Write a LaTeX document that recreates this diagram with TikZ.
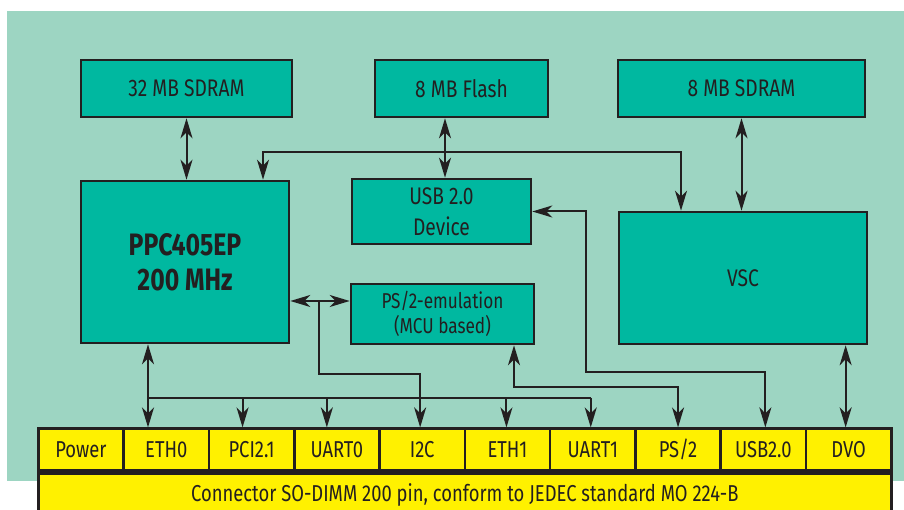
\documentclass[tikz,border=0pt]{standalone}
\usepackage{fontspec}
\setmainfont{Fira Sans}[FakeStretch=0.80]
\usetikzlibrary{arrows.meta, positioning}

\definecolor{bgmint}{RGB}{157,213,194}
\definecolor{boxteal}{RGB}{0,184,160}
\definecolor{portyellow}{RGB}{255,241,0}
\definecolor{inkline}{RGB}{35,31,32}

\begin{document}
\begin{tikzpicture}[x=1pt,y=1pt,>={Stealth[length=20pt,width=12pt,inset=6pt]},
		line width=2pt, draw=inkline, text=inkline,
		font=\fontsize{24}{31}\selectfont,
		block/.style={draw=inkline,fill=boxteal,line width=2.6pt,inner sep=0pt,align=center},
		port/.style={draw=inkline,fill=portyellow,line width=2.6pt,inner sep=0pt,
			minimum width=85.3pt,minimum height=42pt,font=\fontsize{23}{28}\selectfont}]

  \useasboundingbox (0,0) rectangle (904,510);
  \fill[bgmint] (7,29) rectangle (904,499);

  % boxes
  \node[block, minimum width=211pt, minimum height=57pt] (sdram_a) at (186.5,421.5) {32 MB SDRAM};
  \node[block, minimum width=173pt, minimum height=57pt] (flash) at (461.5,421.5) {8 MB Flash};
  \node[block, minimum width=247pt, minimum height=57pt] (sdram_b) at (741.5,421.5) {8 MB SDRAM};
  \node[block, minimum width=208pt, minimum height=162pt,
		font=\fontsize{31}{35}\selectfont\bfseries] (cpu) at (185,248) {PPC405EP\\200 MHz};
  \node[block, minimum width=179pt, minimum height=65pt] (usb_dev) at (441.5,298.5) {USB 2.0\\Device};
  \node[block, minimum width=248pt, minimum height=132pt] (vsc) at (743,232) {VSC};
  \node[block, minimum width=183pt, minimum height=60pt,
		font=\fontsize{21.5}{25}\selectfont] (ps2_emu) at (442.5,196) {PS/2-emulation\\(MCU based)};

  % SO-DIMM connector
  \node[port, anchor=north west, minimum width=853pt, minimum height=44pt] (connector) at (37,38)
		{Connector SO-DIMM 200 pin, conform to JEDEC standard MO 224-B};
  \foreach \lbl [count=\i from 0] in {Power,ETH0,PCI2.1,UART0,I2C,ETH1,UART1,PS/2,USB2.0,DVO}
	\node[port, anchor=south west] (port_\i) at (37+85.3*\i,38) {\lbl};

  % memory links
  \draw[<->] (sdram_a.south) -- (sdram_a.south |- cpu.north);
  \coordinate (flash_tap) at ([xshift=-16.5pt]flash.south);
  \draw[<->] (flash_tap) -- (flash_tap |- usb_dev.north);
  \draw[<->] (sdram_b.south) -- (sdram_b.south |- vsc.north);

  % external bus
  \coordinate (mem_bus) at (0,358);
  \coordinate (bus_cpu) at ([xshift=78pt]cpu.north);
  \coordinate (bus_vsc) at ([xshift=-62pt]vsc.north);
  \draw[<->] (bus_cpu) -- (bus_cpu |- mem_bus) -- (bus_vsc |- mem_bus) -- (bus_vsc);

  % PS/2 emulation and I2C
  \coordinate (emu_in) at ([yshift=13pt]ps2_emu.west);
  \draw[<->] (cpu.east |- emu_in) -- (emu_in);
  \coordinate (i2c_tap) at ([xshift=29pt]cpu.east |- emu_in);
  \draw[->] (i2c_tap) -- ++(0,-73) -| ([xshift=-2pt]port_4.north);

  % local bus to the ports
  \coordinate (loc_bus) at (0,112);
  \coordinate (eth0_tap) at ([xshift=-37pt]cpu.south);
  \draw[<->] (eth0_tap) -- (eth0_tap |- port_1.north);
  \foreach \p/\dx in {2/-9,3/-10,5/-1,6/-2} {
	\coordinate (tap_\p) at ([xshift=\dx pt]port_\p.north);
	\draw[->] (tap_\p |- loc_bus) -- (tap_\p);
  }
  \draw (eth0_tap |- loc_bus) -- (tap_6 |- loc_bus);

  % emulation to PS/2 port
  \coordinate (emu_out) at ([xshift=71.5pt]ps2_emu.south);
  \draw[<->] (emu_out) -- ++(0,-42) -| (port_7.north);

  % USB device to USB2.0 port
  \draw[<->] (usb_dev.east) -- ++(54,0) -- ++(0,-160.5) -| ([xshift=2pt]port_8.north);

  % video out
  \coordinate (dvo_tap) at ([xshift=-3pt]port_9.north);
  \draw[<->] (vsc.south -| dvo_tap) -- (dvo_tap);

\end{tikzpicture}
\end{document}
